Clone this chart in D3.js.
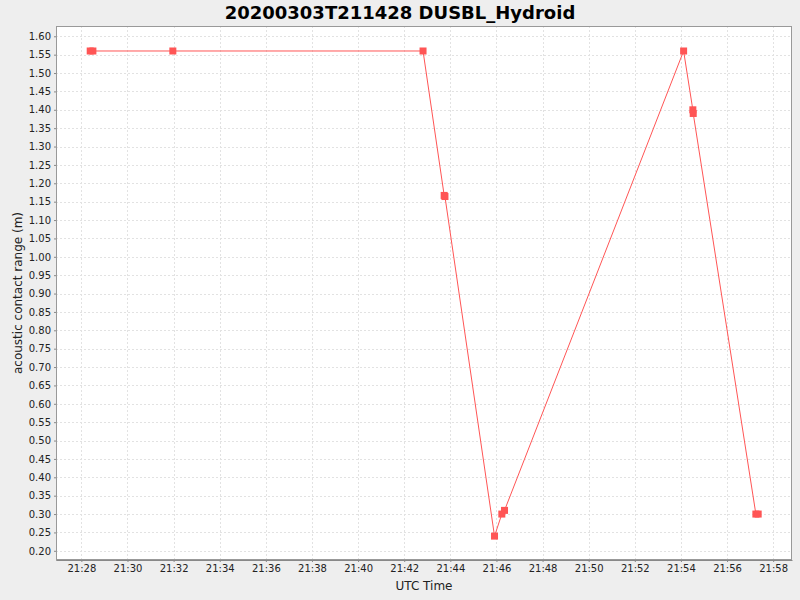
<!DOCTYPE html>
<html>
<head>
<meta charset="utf-8">
<script src="https://cdn.jsdelivr.net/npm/d3@7"></script>
<style>
  body { margin: 0; background: #eeeeee; }
  text { font-family: "DejaVu Sans", sans-serif; }
</style>
</head>
<body>
<div id="chart"></div>
<script>
// contact times (UTC, 2020-03-03) and ranges in metres
const times = [
  "21:28:23", "21:28:30", "21:31:58", "21:42:49", "21:43:44", "21:43:46",
  "21:45:55", "21:46:14", "21:46:21", "21:54:07", "21:54:31", "21:54:32",
  "21:57:15", "21:57:21"
];
const ranges = [
  1.56, 1.56, 1.56, 1.56, 1.167, 1.164,
  0.24, 0.30, 0.31, 1.56, 1.40, 1.39,
  0.30, 0.30
];
const yTicks = d3.range(0.20, 1.6001, 0.05);
const title = "20200303T211428 DUSBL_Hydroid";

const parse = d3.utcParse("%Y-%m-%d %H:%M:%S");
const data = times.map((t, i) => ({ t: parse("2020-03-03 " + t), v: ranges[i] }));

const width = 800, height = 600;
const margin = { top: 26, right: 8, bottom: 40, left: 56 };

const svg = d3.select("#chart")
  .append("svg")
  .attr("width", width)
  .attr("height", height);

svg.append("rect")
  .attr("width", width).attr("height", height)
  .attr("fill", "#eeeeee");

const x = d3.scaleUtc()
  .domain([parse("2020-03-03 21:26:54"), parse("2020-03-03 21:58:49")])
  .range([margin.left, width - margin.right]);
const y = d3.scaleLinear()
  .domain([0.175, 1.628])
  .range([height - margin.bottom, margin.top]);

// plot background
svg.append("rect")
  .attr("x", margin.left).attr("y", margin.top)
  .attr("width", width - margin.left - margin.right)
  .attr("height", height - margin.top - margin.bottom)
  .attr("fill", "#fff");

const xTicks = x.ticks(d3.utcMinute.every(2));

// grid
const grid = svg.append("g")
  .attr("stroke", "#e2e2e2")
  .attr("stroke-width", 1)
  .attr("stroke-dasharray", "2,2");
grid.selectAll(".gx").data(xTicks).join("line")
  .attr("x1", d => Math.round(x(d)) + 0.5).attr("x2", d => Math.round(x(d)) + 0.5)
  .attr("y1", margin.top).attr("y2", height - margin.bottom);
grid.selectAll(".gy").data(yTicks).join("line")
  .attr("x1", margin.left).attr("x2", width - margin.right)
  .attr("y1", d => Math.round(y(d)) + 0.5).attr("y2", d => Math.round(y(d)) + 0.5);

// axes
const xAxis = svg.append("g")
  .attr("transform", `translate(0,${height - margin.bottom})`)
  .call(d3.axisBottom(x).tickValues(xTicks).tickFormat(d3.utcFormat("%H:%M"))
    .tickSizeInner(2).tickSizeOuter(0).tickPadding(3));
const yAxis = svg.append("g")
  .attr("transform", `translate(${margin.left},0)`)
  .call(d3.axisLeft(y).tickValues(yTicks).tickFormat(d3.format(".2f"))
    .tickSizeInner(2).tickSizeOuter(0).tickPadding(3));

[xAxis, yAxis].forEach(a => {
  a.select(".domain").attr("stroke", "#888888");
  a.selectAll(".tick line").attr("stroke", "#888888");
  a.selectAll(".tick text").attr("fill", "#222").style("font-size", "10px");
});

// frame
svg.append("rect")
  .attr("x", margin.left + 0.5).attr("y", margin.top + 0.5)
  .attr("width", width - margin.left - margin.right - 1)
  .attr("height", height - margin.top - margin.bottom - 1)
  .attr("fill", "none").attr("stroke", "#999").attr("stroke-width", 1);

// series line
const line = d3.line().x(d => x(d.t)).y(d => y(d.v));
svg.append("path")
  .datum(data)
  .attr("d", line)
  .attr("fill", "none")
  .attr("stroke", "#ff5555")
  .attr("stroke-width", 1);

// markers
svg.append("g")
  .attr("fill", "#ff5555")
  .selectAll("rect")
  .data(data)
  .join("rect")
  .attr("x", d => x(d.t) - 3.5)
  .attr("y", d => y(d.v) - 3.5)
  .attr("width", 7)
  .attr("height", 7);

// title and labels
svg.append("text")
  .attr("x", width / 2).attr("y", 19)
  .attr("text-anchor", "middle")
  .style("font-size", "18px").style("font-weight", "bold")
  .attr("fill", "#000")
  .text(title);

svg.append("text")
  .attr("x", (margin.left + width - margin.right) / 2).attr("y", 590)
  .attr("text-anchor", "middle")
  .style("font-size", "12px")
  .attr("fill", "#222")
  .text("UTC Time");

svg.append("text")
  .attr("transform", `translate(22,${(margin.top + height - margin.bottom) / 2}) rotate(-90)`)
  .attr("text-anchor", "middle")
  .style("font-size", "12px")
  .attr("fill", "#222")
  .text("acoustic contact range (m)");
</script>
</body>
</html>
